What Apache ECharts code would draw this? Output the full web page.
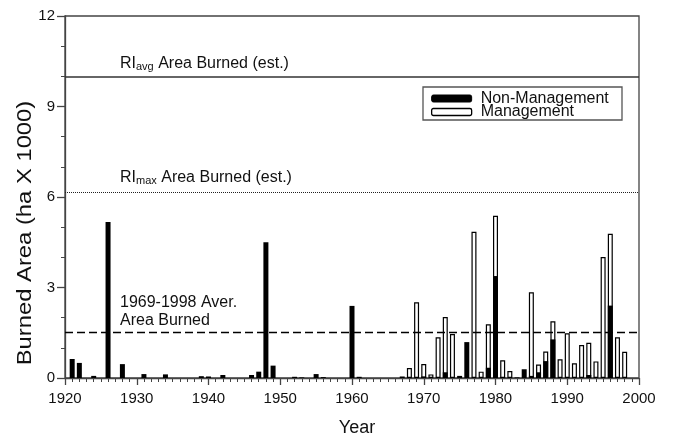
<!DOCTYPE html>
<html>
<head>
<meta charset="utf-8">
<script src="https://cdn.jsdelivr.net/npm/echarts@6/dist/echarts.min.js"></script>
<style>
html,body{margin:0;padding:0;background:#fff;}
#chart{width:673px;height:439px;}
</style>
</head>
<body>
<div id="chart"></div>
<script>
// ---- data ----
const years = [1921,1922,1924,1926,1928,1931,1934,1939,1940,1942,1946,1947,1948,1949,1952,1953,1955,1956,1960,1961,1967,
  1968,1969,1970,1971,1972,1973,1974,1975,1976,1977,1978,1979,1980,1981,1982,1983,1984,1985,1986,1987,1988,1989,1990,1991,1992,1993,1994,1995,1996,1997,1998];
const nonManagement = [0.63,0.50,0.07,5.17,0.46,0.13,0.12,0.06,0.05,0.10,0.10,0.21,4.50,0.41,0.04,0.02,0.13,0.03,2.39,0.04,0.05,
  0,0,0.05,0,0,0.19,0,0.07,1.19,0,0,0.34,3.38,0.03,0,0.02,0.29,0.07,0.19,0.56,1.28,0,0,0,0,0.10,0,0,2.40,0,0];
const management = [0,0,0,0,0,0,0,0,0,0,0,0,0,0,0,0,0,0,0,0,0,
  0.33,2.51,0.41,0.12,1.35,1.83,1.46,0,0,4.85,0.21,1.44,2.00,0.56,0.23,0,0,2.77,0.26,0.32,0.60,0.62,1.48,0.49,1.09,1.07,0.55,4.01,2.38,1.35,0.87];
const xTicks = {min:1920, max:2000, interval:10};
const yTicks = {min:0, max:12, interval:3};
const refValues = [10, 6.15, 1.53];
const refLabels = ['{a|RI}{s|avg}{a| Area Burned (est.)}', '{a|RI}{s|max}{a| Area Burned (est.)}', '{b|1969-1998 Aver.}\n{b|Area Burned}'];
const seriesNames = ['Non-Management', 'Management'];

const FONT = 'Liberation Sans, Arial, Helvetica, sans-serif';
// Management bars sit on top of the Non-Management part of the same year
const nmPairs = years.map((y, i) => [y, nonManagement[i] > 0 ? nonManagement[i] : null]);
const totalPairs = years.map((y, i) => [y, management[i] > 0 ? management[i] + nonManagement[i] : null]);

const rich = {
  a: {fontFamily: FONT, fontSize: 16, color: '#111', lineHeight: 17, verticalAlign: 'top'},
  s: {fontFamily: FONT, fontSize: 11, color: '#111', lineHeight: 11, padding: [7,0,0,0], verticalAlign: 'bottom'},
  b: {fontFamily: FONT, fontSize: 16, color: '#111', lineHeight: 18}
};
const refStyles = [
  {type: 'solid', width: 1.5, color: '#333'},
  {type: [1, 1], width: 1, color: '#222'},
  {type: [8, 4], width: 1.3, color: '#000'}
];
const refDist = [[55, 4], [55, 6], [55, 2]];

const chart = echarts.init(document.getElementById('chart'));
chart.setOption({
  animation: false,
  backgroundColor: '#fff',
  textStyle: {fontFamily: FONT},
  grid: {left: 65, right: 34, top: 16, bottom: 61, outerBoundsMode: 'none', containLabel: false,
         show: true, borderColor: '#444', borderWidth: 1.3, backgroundColor: 'transparent'},
  legend: {
    orient: 'vertical', left: 431, top: 90.5,
    itemWidth: 40, itemHeight: 7, itemGap: -2.5,
    padding: 0,
    borderWidth: 0,
    textStyle: {fontFamily: FONT, fontSize: 16, color: '#111', padding: [0,0,0,4]},
    data: [
      {name: seriesNames[0], itemStyle: {color: '#000', borderColor: '#000', borderWidth: 1}},
      {name: seriesNames[1], itemStyle: {color: '#fff', borderColor: '#000', borderWidth: 1.3}}
    ]
  },
  xAxis: {
    type: 'value', min: xTicks.min, max: xTicks.max, interval: xTicks.interval,
    name: 'Year', nameLocation: 'middle', nameGap: 41,
    nameTextStyle: {fontFamily: FONT, fontSize: 18, color: '#111', padding: [0,0,0,10]},
    axisLine: {show: true, lineStyle: {color: '#444', width: 1.3}},
    axisTick: {show: true, length: 7, lineStyle: {color: '#444', width: 1.3}},
    minorTick: {show: true, splitNumber: 10, length: 4, lineStyle: {color: '#444', width: 1}},
    axisLabel: {fontFamily: FONT, fontSize: 15, color: '#111', margin: 13, formatter: v => String(v)},
    splitLine: {show: false}
  },
  yAxis: {
    type: 'value', min: yTicks.min, max: yTicks.max, interval: yTicks.interval,
    axisLine: {show: true, lineStyle: {color: '#444', width: 1.3}},
    axisTick: {show: true, length: 8, lineStyle: {color: '#444', width: 1.3}},
    minorTick: {show: true, splitNumber: 3, length: 4, lineStyle: {color: '#444', width: 1}},
    axisLabel: {fontFamily: FONT, fontSize: 15, color: '#111', margin: 10},
    splitLine: {show: false}
  },
  graphic: [
    {
      type: 'text',
      x: 26, y: 233, rotation: Math.PI / 2, scaleX: 1.22,
      style: {text: 'Burned Area (ha X 1000)', fontFamily: FONT, fontSize: 19.5, fill: '#111', align: 'center', verticalAlign: 'middle'}
    },
    {
      type: 'rect', x: 423, y: 87, z: 10, silent: true,
      shape: {width: 199, height: 33},
      style: {fill: 'none', stroke: '#555', lineWidth: 1.3}
    }
  ],
  series: [
    {
      name: seriesNames[1], type: 'bar', barWidth: 5, barGap: '-100%', z: 2,
      itemStyle: {color: '#fff', borderColor: '#000', borderWidth: 1.2},
      data: totalPairs
    },
    {
      name: seriesNames[0], type: 'bar', barWidth: 5, barGap: '-100%', z: 3,
      itemStyle: {color: '#000'},
      data: nmPairs,
      markLine: {
        silent: true, symbol: 'none',
        data: refValues.map((v, i) => ({
          yAxis: v,
          lineStyle: refStyles[i],
          label: {show: true, position: 'insideStartTop', distance: refDist[i], formatter: refLabels[i], rich: rich, color: '#111'}
        }))
      }
    }
  ]
});
</script>
</body>
</html>
